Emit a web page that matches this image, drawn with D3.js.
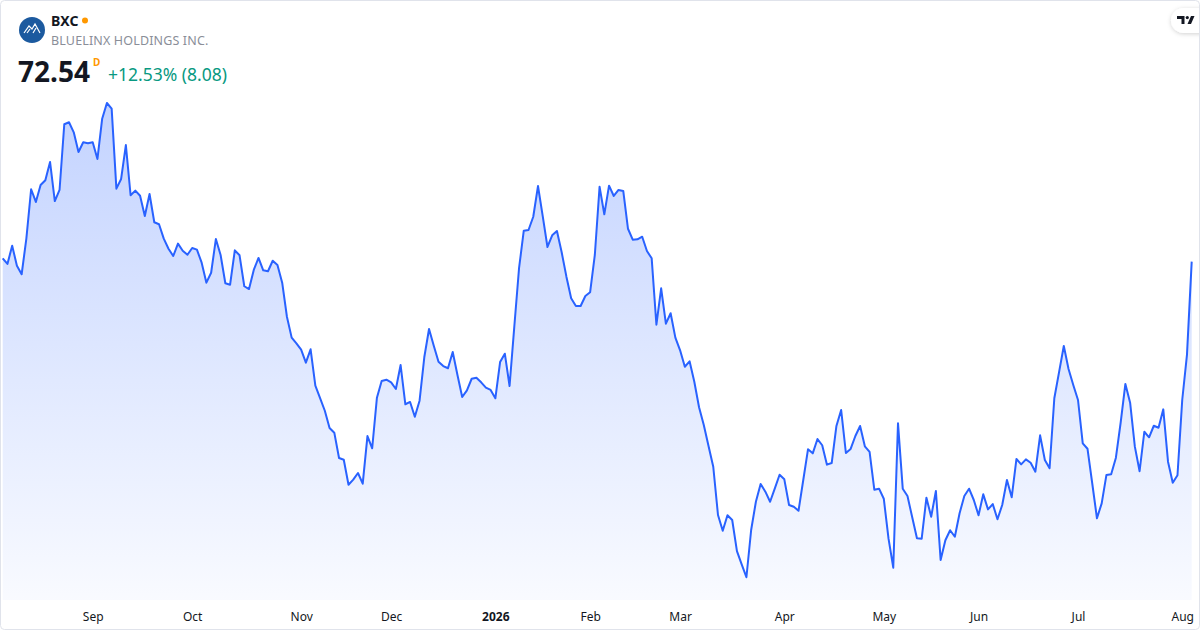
<!DOCTYPE html>
<html>
<head>
<meta charset="utf-8">
<script src="https://cdn.jsdelivr.net/npm/d3@7"></script>
<style>
  body { margin: 0; background: #fff; }
  svg { display: block; font-family: "Noto Sans", "Open Sans", sans-serif; }
</style>
</head>
<body>
<svg id="chart" width="1200" height="630"></svg>
<script>
// daily closes, Aug 2025 -> Aug 2026
const closes = [
  72.83, 72.34, 73.92, 72.19, 71.45, 74.56, 78.81, 77.71, 79.18, 79.59,
  81.17, 77.79, 78.75, 84.44, 84.61, 83.74, 82.04, 82.88, 82.79, 82.88,
  81.43, 84.92, 86.28, 85.79, 78.86, 79.70, 82.64, 78.29, 78.69, 78.25,
  76.49, 78.40, 75.95, 75.78, 74.53, 73.66, 73.03, 74.10, 73.49, 73.14,
  73.72, 73.58, 72.45, 70.72, 71.58, 74.50, 73.12, 70.67, 70.54, 73.52,
  73.09, 70.41, 70.17, 71.82, 72.86, 71.79, 71.71, 72.62, 72.25, 70.72,
  67.77, 65.96, 65.47, 64.92, 63.79, 64.95, 61.80, 60.73, 59.63, 58.14,
  57.73, 55.54, 55.39, 53.22, 53.66, 54.24, 53.31, 57.44, 56.38, 60.76,
  62.21, 62.32, 62.08, 61.51, 63.59, 60.19, 60.39, 59.11, 60.50, 64.26,
  66.71, 65.26, 63.88, 63.50, 63.31, 64.72, 62.73, 60.82, 61.40, 62.40,
  62.49, 62.09, 61.63, 61.43, 60.71, 63.85, 64.57, 61.77, 66.91, 71.97,
  75.22, 75.28, 76.43, 79.09, 76.49, 73.81, 74.82, 75.20, 73.35, 71.24,
  69.37, 68.70, 68.70, 69.57, 69.89, 73.12, 79.03, 76.64, 79.12, 78.23,
  78.75, 78.66, 75.39, 74.44, 74.48, 74.70, 73.46, 72.83, 67.08, 70.23,
  67.17, 68.07, 65.96, 64.86, 63.44, 63.91, 62.14, 59.93, 58.40, 56.58,
  54.78, 50.60, 49.24, 50.58, 50.17, 47.48, 46.33, 45.21, 49.30, 51.75,
  53.29, 52.62, 51.75, 52.91, 54.09, 53.69, 51.47, 51.32, 50.97, 53.63,
  56.29, 55.94, 57.18, 56.64, 54.96, 55.10, 58.31, 59.69, 55.97, 56.32,
  57.44, 58.31, 56.55, 56.06, 52.79, 52.88, 52.01, 48.55, 46.04, 58.54,
  52.88, 52.25, 50.40, 48.58, 48.55, 52.10, 50.45, 52.68, 46.70, 48.41,
  49.28, 48.72, 50.75, 52.25, 52.88, 51.90, 50.58, 52.39, 51.09, 51.55,
  50.23, 51.47, 53.63, 52.13, 55.45, 54.99, 55.42, 55.13, 54.35, 57.50,
  55.36, 54.65, 60.71, 62.98, 65.24, 63.24, 61.86, 60.56, 56.81, 56.34,
  53.35, 50.32, 51.61, 54.07, 54.13, 55.56, 58.59, 61.95, 60.33, 56.52,
  54.39, 57.81, 57.33, 58.33, 58.16, 59.75, 55.22, 53.40, 54.04, 60.56,
  64.46, 72.54
];

// x-axis tick labels and the index of the bar they sit on
const tickLabels = ["Sep", "Oct", "Nov", "Dec", "2026", "Feb", "Mar", "Apr", "May", "Jun", "Jul", "Aug"];
const tickIdx = [19, 40, 63, 82, 104, 124, 143, 165, 186, 206, 227, 249];

const symbol = "BXC";
const company = "BLUELINX HOLDINGS INC.";
const lastPrice = 72.54;
const change = 8.08;
const changePct = 12.53;

const CONFIG = {
  width: 1200,
  height: 630,
  plot: { left: 2.7, right: 1191.7, top: 100, bottom: 600 },
  yDomain: [43.24, 86.54],
  colors: {
    line: "#2962ff",
    text: "#131722",
    gray: "#8a8e98",
    green: "#089981",
    orange: "#ff9800",
    border: "#e0e3eb",
    logo: "#1c5a9f"
  }
};

const mainSVG = d3.select("#chart");

const x = d3.scaleLinear()
  .domain([0, closes.length - 1])
  .range([CONFIG.plot.left, CONFIG.plot.right]);

const y = d3.scaleLinear()
  .domain(CONFIG.yDomain)
  .range([CONFIG.plot.bottom, CONFIG.plot.top]);

function drawArea() {
  console.log("==> drawArea()");

  const defs = mainSVG.append("defs");
  const grad = defs.append("linearGradient")
    .attr("id", "fillGrad")
    .attr("gradientUnits", "userSpaceOnUse")
    .attr("x1", 0).attr("x2", 0)
    .attr("y1", y(d3.max(closes)))
    .attr("y2", CONFIG.plot.bottom);
  grad.append("stop").attr("offset", 0)
    .attr("stop-color", CONFIG.colors.line).attr("stop-opacity", 0.28);
  grad.append("stop").attr("offset", 1)
    .attr("stop-color", CONFIG.colors.line).attr("stop-opacity", 0.03);

  const area = d3.area()
    .x((d, i) => x(i))
    .y0(CONFIG.plot.bottom)
    .y1((d) => y(d));

  const line = d3.line()
    .x((d, i) => x(i))
    .y((d) => y(d));

  mainSVG.append("path")
    .datum(closes)
    .attr("d", area)
    .attr("fill", "url(#fillGrad)");

  mainSVG.append("path")
    .datum(closes)
    .attr("d", line)
    .attr("fill", "none")
    .attr("stroke", CONFIG.colors.line)
    .attr("stroke-width", 2)
    .attr("stroke-linejoin", "round");
}

function drawAxis() {
  console.log("==> drawAxis()");

  const axis = d3.axisBottom(x)
    .tickValues(tickIdx)
    .tickFormat((d, i) => tickLabels[i])
    .tickSize(0)
    .tickPadding(12);

  const g = mainSVG.append("g")
    .attr("transform", "translate(0," + CONFIG.plot.bottom + ")")
    .call(axis);

  g.select(".domain").remove();
  g.selectAll("text")
    .attr("fill", CONFIG.colors.text)
    .style("font-size", "12px")
    .style("font-family", "'Noto Sans', sans-serif")
    .style("font-weight", (d, i) => tickLabels[i] === "2026" ? "bold" : "normal");
}

function drawHeader() {
  console.log("==> drawHeader()");

  // company logo
  mainSVG.append("circle")
    .attr("cx", 32).attr("cy", 30).attr("r", 13)
    .attr("fill", CONFIG.colors.logo);
  mainSVG.append("path")
    .attr("d", "M24,33 L29,26 L32,29 L35,24 L40,33 M27,33 L30,29 M33,33 L36,28")
    .attr("fill", "none")
    .attr("stroke", "#fff")
    .attr("stroke-width", 1.2);

  mainSVG.append("text")
    .attr("x", 51).attr("y", 26)
    .attr("fill", CONFIG.colors.text)
    .style("font-size", "14px")
    .style("font-weight", "bold")
    .text(symbol);

  mainSVG.append("circle")
    .attr("cx", 85).attr("cy", 20.5).attr("r", 3)
    .attr("fill", CONFIG.colors.orange);

  mainSVG.append("text")
    .attr("x", 51).attr("y", 45)
    .attr("fill", CONFIG.colors.gray)
    .style("font-size", "12.5px")
    .style("letter-spacing", "0.15px")
    .text(company);

  mainSVG.append("text")
    .attr("x", 18).attr("y", 82)
    .attr("fill", CONFIG.colors.text)
    .style("font-size", "28px")
    .style("font-weight", "bold")
    .text(lastPrice.toFixed(2));

  mainSVG.append("text")
    .attr("x", 93).attr("y", 66)
    .attr("fill", CONFIG.colors.orange)
    .style("font-size", "10px")
    .style("font-weight", "bold")
    .text("D");

  mainSVG.append("text")
    .attr("x", 108).attr("y", 81)
    .attr("fill", CONFIG.colors.green)
    .style("font-size", "17.5px")
    .text("+" + changePct.toFixed(2) + "% (" + change.toFixed(2) + ")");
}

function drawBadge() {
  console.log("==> drawBadge()");

  const f = mainSVG.select("defs").append("filter")
    .attr("id", "shadow")
    .attr("x", "-50%").attr("y", "-50%")
    .attr("width", "200%").attr("height", "200%");
  f.append("feDropShadow")
    .attr("dx", 0).attr("dy", 1)
    .attr("stdDeviation", 2)
    .attr("flood-color", "#000")
    .attr("flood-opacity", 0.18);

  mainSVG.append("rect")
    .attr("x", 1171).attr("y", 8)
    .attr("width", 44).attr("height", 25)
    .attr("rx", 12.5)
    .attr("fill", "#fff")
    .attr("filter", "url(#shadow)");

  mainSVG.append("path")
    .attr("d", "M1177,16 H1184.5 V24 H1181.5 V19 H1177 Z M1187.5,24 L1191,16 H1194.5 L1191,24 Z")
    .attr("fill", CONFIG.colors.text);
  mainSVG.append("circle")
    .attr("cx", 1187.3).attr("cy", 17.6).attr("r", 1.6)
    .attr("fill", CONFIG.colors.text);
}

function drawFrame() {
  mainSVG.append("rect")
    .attr("x", 0.5).attr("y", 0.5)
    .attr("width", CONFIG.width - 1)
    .attr("height", CONFIG.height - 1)
    .attr("rx", 4)
    .attr("fill", "none")
    .attr("stroke", CONFIG.colors.border);
}

drawArea();
drawAxis();
drawHeader();
drawBadge();
drawFrame();
</script>
</body>
</html>
